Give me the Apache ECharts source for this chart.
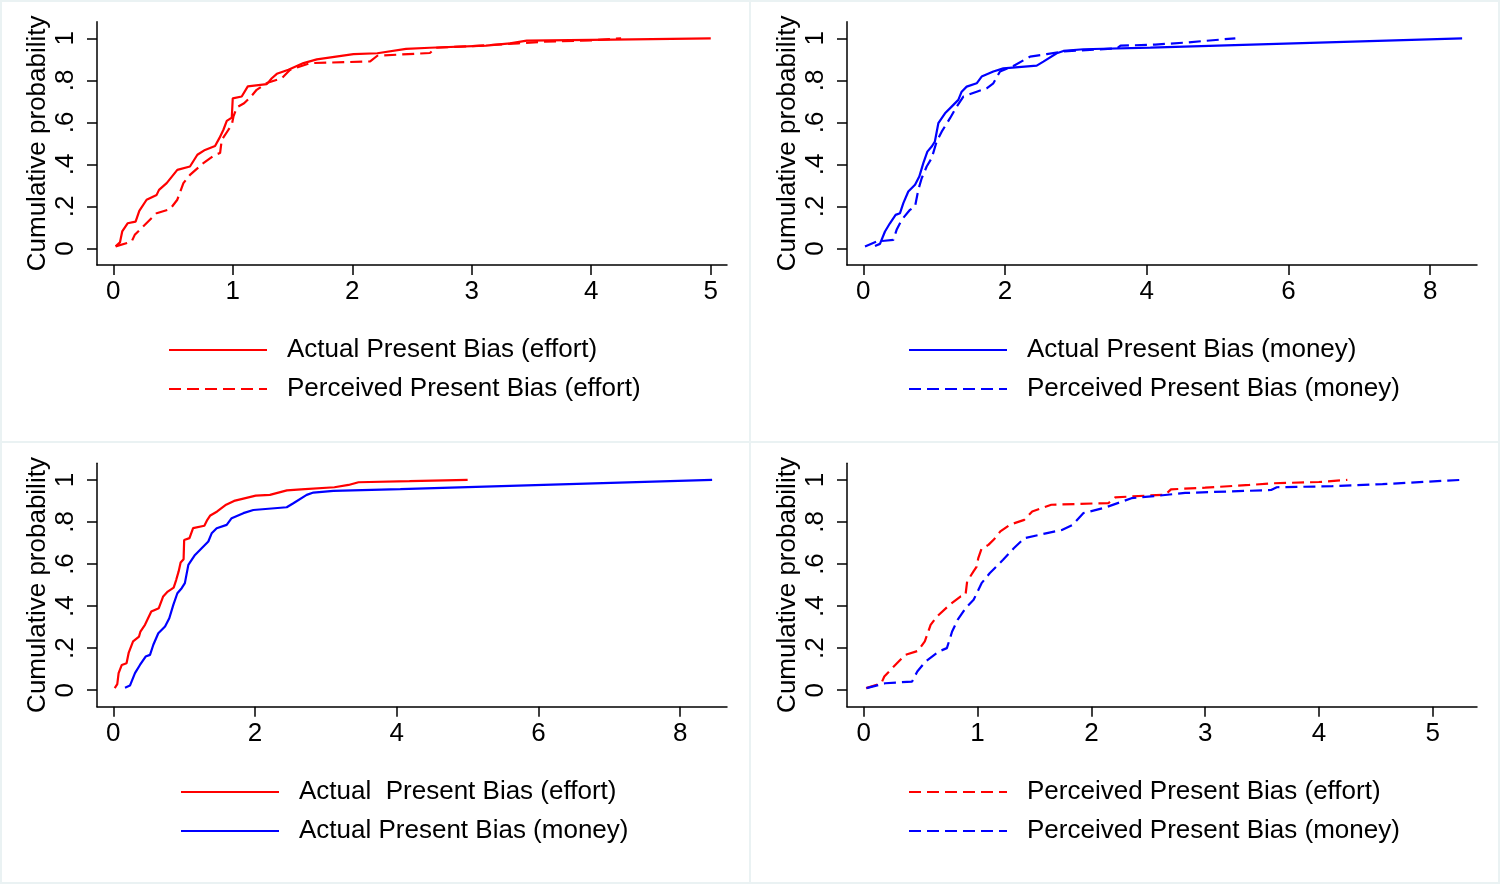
<!DOCTYPE html>
<html>
<head>
<meta charset="utf-8">
<script src="https://cdn.jsdelivr.net/npm/echarts@6/dist/echarts.min.js"></script>
<style>
html, body { margin: 0; padding: 0; background: #fff; }
#main { width: 1500px; height: 884px; }
</style>
</head>
<body>
<div id="main"></div>
<script>
// Actual present bias (effort) - red solid
var actualEffortX = [0.02, 0.056, 0.075, 0.12, 0.187, 0.218, 0.279, 0.363, 0.383, 0.447, 0.536, 0.642, 0.704, 0.768, 0.852, 0.888, 0.922, 0.95, 0.992, 1.0, 1.075, 1.126, 1.285, 1.327, 1.369, 1.466, 1.592, 1.704, 2.01, 2.21, 2.45, 2.65, 3.12, 3.32, 3.46, 4.18, 5.0];
var actualEffortY = [0.01, 0.029, 0.081, 0.12, 0.128, 0.179, 0.232, 0.255, 0.279, 0.311, 0.374, 0.39, 0.446, 0.469, 0.488, 0.525, 0.565, 0.607, 0.623, 0.714, 0.723, 0.771, 0.782, 0.81, 0.831, 0.85, 0.882, 0.9, 0.925, 0.929, 0.95, 0.955, 0.965, 0.976, 0.989, 0.994, 1.0];

// Perceived present bias (effort) - red dashed
var perceivedEffortX = [0.02, 0.154, 0.18, 0.25, 0.363, 0.475, 0.536, 0.587, 0.642, 0.754, 0.852, 0.894, 0.908, 0.964, 0.992, 1.006, 1.034, 1.095, 1.145, 1.2, 1.285, 1.41, 1.48, 1.648, 2.15, 2.21, 2.65, 2.7, 3.0, 3.39, 3.6, 4.0, 4.25];
var perceivedEffortY = [0.01, 0.033, 0.065, 0.105, 0.168, 0.187, 0.232, 0.311, 0.35, 0.406, 0.446, 0.454, 0.517, 0.565, 0.588, 0.628, 0.672, 0.691, 0.718, 0.755, 0.787, 0.81, 0.85, 0.882, 0.89, 0.917, 0.93, 0.955, 0.963, 0.976, 0.984, 0.99, 1.0];

// Actual present bias (money) - blue solid
var actualMoneyX = [0.165, 0.235, 0.306, 0.376, 0.456, 0.518, 0.565, 0.635, 0.73, 0.79, 0.847, 0.904, 0.965, 1.01, 1.059, 1.153, 1.247, 1.341, 1.388, 1.459, 1.6, 1.67, 1.835, 1.976, 2.447, 2.541, 2.729, 2.824, 3.106, 4.05, 8.45];
var actualMoneyY = [0.012, 0.022, 0.081, 0.12, 0.16, 0.168, 0.216, 0.271, 0.303, 0.342, 0.406, 0.461, 0.485, 0.509, 0.596, 0.643, 0.675, 0.707, 0.746, 0.77, 0.786, 0.818, 0.842, 0.857, 0.87, 0.889, 0.929, 0.94, 0.948, 0.956, 1.0];

// Perceived present bias (money) - blue dashed
var perceivedMoneyX = [0.024, 0.188, 0.424, 0.47, 0.541, 0.659, 0.73, 0.776, 0.824, 0.894, 0.965, 1.035, 1.106, 1.224, 1.318, 1.412, 1.6, 1.741, 1.835, 1.929, 2.118, 2.353, 2.59, 2.824, 3.58, 3.63, 4.12, 4.56, 5.25];
var perceivedMoneyY = [0.01, 0.033, 0.041, 0.089, 0.136, 0.184, 0.2, 0.279, 0.334, 0.39, 0.43, 0.509, 0.556, 0.62, 0.675, 0.723, 0.746, 0.762, 0.786, 0.842, 0.868, 0.913, 0.925, 0.938, 0.952, 0.965, 0.97, 0.98, 1.0];

var ticks5 = [0, 1, 2, 3, 4, 5];
var ticks8 = [0, 2, 4, 6, 8];
var probTicks = [0, 0.2, 0.4, 0.6, 0.8, 1];

var font = '"Liberation Sans", Arial, Helvetica, sans-serif';

function zip(xs, ys) {
    var out = [];
    for (var i = 0; i < xs.length; i++) out.push([xs[i], ys[i]]);
    return out;
}

var grids = [
    { left: 97, top: 21.7, width: 630, height: 243.3, outerBoundsMode: 'none' },
    { left: 847, top: 21.7, width: 630, height: 243.3, outerBoundsMode: 'none' },
    { left: 97, top: 463.3, width: 630, height: 243.4, outerBoundsMode: 'none' },
    { left: 847, top: 463.3, width: 630, height: 243.4, outerBoundsMode: 'none' }
];

function makeX(i, min, max, ticks) {
    return {
        type: 'value', gridIndex: i, min: min, max: max,
        splitLine: { show: false },
        axisLine: { show: true, onZero: false, lineStyle: { color: '#000', width: 1.5 } },
        axisTick: { show: true, length: 10, customValues: ticks, lineStyle: { color: '#000', width: 1.5 } },
        axisLabel: { customValues: ticks, margin: 14, fontSize: 26, color: '#000', fontFamily: font }
    };
}

function makeY(i) {
    return {
        type: 'value', gridIndex: i, min: -0.0785, max: 1.079,
        name: 'Cumulative probability', nameLocation: 'middle', nameGap: 46,
        nameTextStyle: { fontSize: 26, color: '#000', fontFamily: font },
        splitLine: { show: false },
        axisLine: { show: true, onZero: false, lineStyle: { color: '#000', width: 1.5 } },
        axisTick: { show: true, length: 10, customValues: probTicks, lineStyle: { color: '#000', width: 1.5 } },
        axisLabel: {
            customValues: probTicks, rotate: 90, margin: 18, fontSize: 26, color: '#000', fontFamily: font,
            formatter: function (v) {
                if (v === 0) return '0';
                if (v === 1) return '1';
                return String(Math.round(v * 10) / 10).replace('0.', '.');
            }
        }
    };
}

function makeLine(name, i, data, color, dashed) {
    return {
        name: name, type: 'line', xAxisIndex: i, yAxisIndex: i,
        data: data, symbol: 'none', showSymbol: false, silent: true,
        lineStyle: { color: color, width: 2.2, type: dashed ? [12, 6] : 'solid' },
        itemStyle: { color: color }
    };
}

function makeLegend(names, left, top) {
    return {
        data: names, orient: 'vertical', left: left, top: top, padding: 0,
        itemWidth: 98, itemHeight: 14, itemGap: 9, selectedMode: false,
        itemStyle: { opacity: 0 },
        textStyle: { fontSize: 26, color: '#000', fontFamily: font, lineHeight: 30, padding: [0, 0, 0, 15] }
    };
}

var AE = 'Actual Present Bias (effort)';
var AE2 = 'Actual  Present Bias (effort)';
var PE = 'Perceived Present Bias (effort)';
var AM = 'Actual Present Bias (money)';
var PM = 'Perceived Present Bias (money)';

var dom = document.getElementById('main');
var myChart = echarts.init(dom);

var option = {
    backgroundColor: '#eaf2f3',
    animation: false,
    graphic: {
        elements: [
            { type: 'rect', z: -1, silent: true, shape: { x: 2, y: 2, width: 747, height: 439 }, style: { fill: '#fff' } },
            { type: 'rect', z: -1, silent: true, shape: { x: 751, y: 2, width: 747, height: 439 }, style: { fill: '#fff' } },
            { type: 'rect', z: -1, silent: true, shape: { x: 2, y: 443, width: 747, height: 439 }, style: { fill: '#fff' } },
            { type: 'rect', z: -1, silent: true, shape: { x: 751, y: 443, width: 747, height: 439 }, style: { fill: '#fff' } }
        ]
    },
    grid: grids,
    xAxis: [
        makeX(0, -0.136, 5.136, ticks5),
        makeX(1, -0.23, 8.66, ticks8),
        makeX(2, -0.23, 8.66, ticks8),
        makeX(3, -0.148, 5.39, ticks5)
    ],
    yAxis: [makeY(0), makeY(1), makeY(2), makeY(3)],
    legend: [
        makeLegend([AE, PE], 168, 335),
        makeLegend([AM, PM], 908, 335),
        makeLegend([AE2, AM], 180, 777),
        makeLegend([PE, PM], 908, 777)
    ],
    series: [
        makeLine(AE, 0, zip(actualEffortX, actualEffortY), '#ff0000', false),
        makeLine(PE, 0, zip(perceivedEffortX, perceivedEffortY), '#ff0000', true),
        makeLine(AM, 1, zip(actualMoneyX, actualMoneyY), '#0000ff', false),
        makeLine(PM, 1, zip(perceivedMoneyX, perceivedMoneyY), '#0000ff', true),
        makeLine(AE2, 2, zip(actualEffortX, actualEffortY), '#ff0000', false),
        makeLine(AM, 2, zip(actualMoneyX, actualMoneyY), '#0000ff', false),
        makeLine(PE, 3, zip(perceivedEffortX, perceivedEffortY), '#ff0000', true),
        makeLine(PM, 3, zip(perceivedMoneyX, perceivedMoneyY), '#0000ff', true)
    ]
};

myChart.setOption(option);
</script>
</body>
</html>
